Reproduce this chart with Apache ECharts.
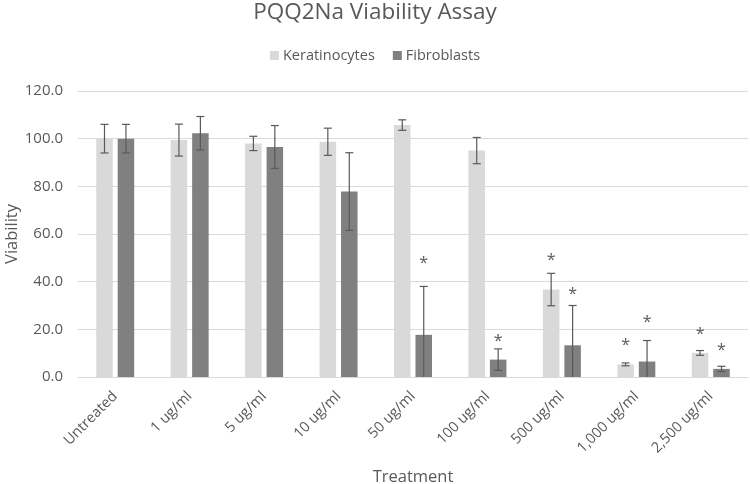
<!DOCTYPE html>
<html>
<head>
<meta charset="utf-8">
<script src="https://cdn.jsdelivr.net/npm/echarts@6/dist/echarts.min.js"></script>
<style>html,body{margin:0;padding:0;background:#fff}#c{width:750px;height:484px}</style>
</head>
<body>
<div id="c"></div>
<script>
var categories = ['Untreated', '1 ug/ml', '5 ug/ml', '10 ug/ml', '50 ug/ml', '100 ug/ml', '500 ug/ml', '1,000 ug/ml', '2,500 ug/ml'];
var keratinocytes = [100, 99.4, 98.0, 98.7, 105.7, 95.0, 36.7, 5.3, 10.1];
var keratinocytesErr = [6, 6.7, 3, 5.7, 2.2, 5.5, 6.8, 0.6, 1.0];
var fibroblasts = [100, 102.3, 96.5, 77.8, 17.7, 7.3, 13.3, 6.5, 3.4];
var fibroblastsErr = [6, 7, 9, 16.3, 20.3, 4.5, 16.7, 8.8, 1.1];
var sigK = [null, null, null, null, null, null, 50, 14.3, 19];
var sigF = [null, null, null, null, 49, 16, 36, 24, 12.2];
var yTicks = [0, 20, 40, 60, 80, 100, 120];

var FONT = '"Open Sans", sans-serif';
var TXT = '#595959';
var CAT_GAP = 0.49, BAR_GAP = 0.3;

function barOffset(api, side) {
  var band = api.size([1, 0])[0];
  var w = band * (1 - CAT_GAP) / (2 + BAR_GAP);
  return side * (w / 2 + w * BAR_GAP / 2);
}

function errSeries(vals, errs, side) {
  var data = vals.map(function (v, i) { return [i, v, errs[i]]; });
  return {
    type: 'custom', clip: true, z: 5, silent: true,
    data: data,
    renderItem: function (params, api) {
      var i = api.value(0), v = api.value(1), e = api.value(2);
      var off = barOffset(api, side);
      var top = api.coord([i, v + e]);
      var bot = api.coord([i, v - e]);
      var x = top[0] + off;
      var cap = 4;
      var st = { stroke: '#595959', lineWidth: 1.2 };
      return {
        type: 'group',
        children: [
          { type: 'line', shape: { x1: x, y1: top[1], x2: x, y2: bot[1] }, style: st },
          { type: 'line', shape: { x1: x - cap, y1: top[1], x2: x + cap, y2: top[1] }, style: st },
          { type: 'line', shape: { x1: x - cap, y1: bot[1], x2: x + cap, y2: bot[1] }, style: st }
        ]
      };
    }
  };
}

function sigSeries(pos, side) {
  var data = [];
  pos.forEach(function (p, i) { if (p != null) data.push([i, p]); });
  return {
    type: 'custom', z: 6, silent: true,
    data: data,
    renderItem: function (params, api) {
      var c = api.coord([api.value(0), api.value(1)]);
      return {
        type: 'text',
        style: {
          text: '*', x: c[0] + barOffset(api, side), y: c[1] + 3,
          fill: TXT, font: '16px ' + FONT, align: 'center', verticalAlign: 'middle'
        }
      };
    }
  };
}

var chart = echarts.init(document.getElementById('c'), null, { renderer: 'canvas' });
chart.setOption({
  animation: false,
  backgroundColor: '#fff',
  title: {
    text: 'PQQ2Na Viability Assay', left: 'center', top: 0, padding: [1, 5, 5, 5],
    textStyle: { fontFamily: FONT, fontSize: 22.5, fontWeight: 'normal', color: TXT }
  },
  legend: {
    top: 43, left: 'center', itemWidth: 9, itemHeight: 9, itemGap: 18,
    icon: 'rect',
    textStyle: { fontFamily: FONT, fontSize: 14.5, color: TXT, padding: [0, 0, 0, -1] },
    data: ['Keratinocytes', 'Fibroblasts']
  },
  grid: { left: 78, right: 2, top: 91, bottom: 107, containLabel: false, outerBoundsMode: 'none' },
  xAxis: {
    type: 'category', data: categories,
    name: 'Treatment', nameLocation: 'middle', nameGap: 92, nameMoveOverlap: false,
    nameTextStyle: { fontFamily: FONT, fontSize: 16.5, color: TXT },
    axisLine: { lineStyle: { color: '#d9d9d9' } },
    axisTick: { show: false },
    axisLabel: { rotate: 45, margin: 17, fontFamily: FONT, fontSize: 14.5, color: TXT, interval: 0 }
  },
  yAxis: {
    type: 'value', min: 0, max: 120, interval: 20,
    name: 'Viability', nameLocation: 'middle', nameGap: 57, nameMoveOverlap: false,
    nameTextStyle: { fontFamily: FONT, fontSize: 16.5, color: TXT },
    axisLine: { show: false }, axisTick: { show: false },
    splitLine: { lineStyle: { color: '#d9d9d9', width: 1 } },
    axisLabel: {
      margin: 15, fontFamily: FONT, fontSize: 15, color: TXT,
      formatter: function (v) { return yTicks.indexOf(v) >= 0 ? v.toFixed(1) : ''; }
    }
  },
  series: [
    { name: 'Keratinocytes', type: 'bar', data: keratinocytes, itemStyle: { color: '#d9d9d9' },
      barGap: (BAR_GAP * 100) + '%', barCategoryGap: (CAT_GAP * 100) + '%' },
    { name: 'Fibroblasts', type: 'bar', data: fibroblasts, itemStyle: { color: '#808080' },
      barGap: (BAR_GAP * 100) + '%', barCategoryGap: (CAT_GAP * 100) + '%' },
    errSeries(keratinocytes, keratinocytesErr, -1),
    errSeries(fibroblasts, fibroblastsErr, 1),
    sigSeries(sigK, -1),
    sigSeries(sigF, 1)
  ]
});
</script>
</body>
</html>
